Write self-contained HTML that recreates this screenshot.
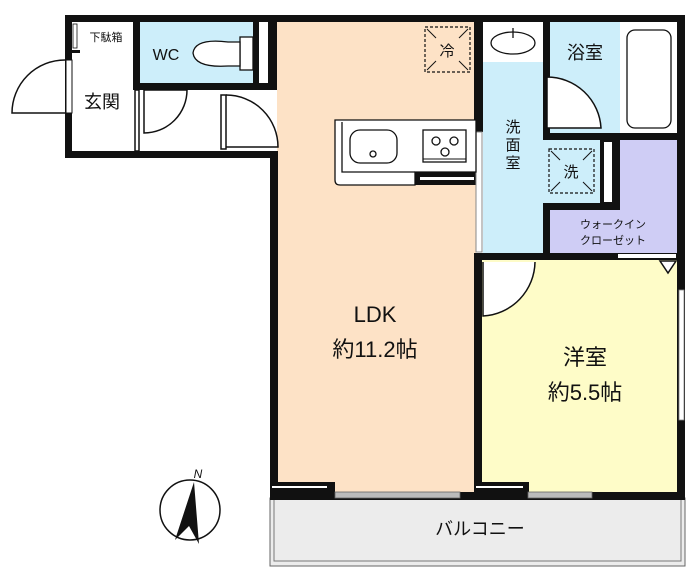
<!DOCTYPE html>
<html><head><meta charset="utf-8"><style>
html,body{margin:0;padding:0;background:#fff;width:700px;height:576px;overflow:hidden}
svg{display:block}
text{font-family:"Liberation Sans","Noto Sans CJK JP",sans-serif;fill:#111}
</style></head><body>
<svg width="700" height="576" viewBox="0 0 700 576">
<!-- fills -->
<rect x="72" y="22" width="205" height="130" fill="#fff"/>
<rect x="140" y="22" width="113" height="61" fill="#cdeefa"/>
<rect x="277" y="22" width="199" height="472" fill="#fde2c6"/>
<rect x="270" y="152" width="10" height="342" fill="#fde2c6"/>
<rect x="483" y="62" width="62" height="192" fill="#cdeefa"/>
<rect x="545" y="140" width="62" height="65" fill="#cdeefa"/>
<rect x="550" y="22" width="70" height="112" fill="#cdeefa"/>
<rect x="620" y="22" width="58" height="112" fill="#fff"/>
<rect x="483" y="22" width="62" height="40" fill="#fff"/>
<rect x="620" y="140" width="58" height="115" fill="#cfcdf5"/>
<rect x="550" y="205" width="70" height="50" fill="#cfcdf5"/>
<rect x="482" y="260" width="196" height="234" fill="#fefcc8"/>
<!-- balcony -->
<rect x="270" y="498" width="415" height="68" fill="#ececec" stroke="#666" stroke-width="1"/>
<rect x="274" y="498" width="407" height="63" fill="none" stroke="#777" stroke-width="1"/>
<!-- walls -->
<g fill="#111">
<rect x="65" y="15" width="620" height="7"/>
<rect x="65" y="15" width="7" height="143"/>
<rect x="65" y="151" width="213" height="7"/>
<rect x="270" y="151" width="8" height="349"/>
<rect x="677" y="15" width="8" height="485"/>
<rect x="270" y="492" width="415" height="8"/>
<rect x="133" y="22" width="7" height="68"/>
<rect x="133" y="83" width="144" height="7"/>
<rect x="253" y="22" width="6" height="68"/>
<rect x="268" y="22" width="9" height="68"/>
<rect x="72" y="50" width="8" height="3"/>
<rect x="474" y="22" width="9" height="110"/>
<rect x="543" y="22" width="7" height="118"/>
<rect x="543" y="133" width="142" height="7"/>
<rect x="600" y="140" width="20" height="70"/>
<rect x="545" y="203" width="75" height="7"/>
<rect x="543" y="203" width="7" height="57"/>
<rect x="474" y="253" width="211" height="7"/>
<rect x="474" y="253" width="8" height="247"/>
<rect x="415" y="172" width="61" height="13"/>
<rect x="270" y="482" width="65" height="12"/>
<rect x="474" y="482" width="55" height="12"/>
</g>
<!-- wall gaps / door openings -->
<rect x="66" y="60" width="6" height="53" fill="#fff" stroke="#111" stroke-width="1"/>
<rect x="73" y="24" width="4" height="24" fill="#fff" stroke="#111" stroke-width="0.8"/>
<rect x="260" y="24" width="7" height="58" fill="#fff"/>
<rect x="604" y="142" width="8" height="60" fill="#fff"/>
<rect x="476" y="132" width="6" height="120" fill="#fff" stroke="#888" stroke-width="1"/>
<rect x="420" y="177" width="54" height="3" fill="#fff"/>
<rect x="272" y="486" width="55" height="2" fill="#fff"/>
<rect x="476" y="486" width="47" height="2" fill="#fff"/>
<rect x="335" y="492" width="125" height="6" fill="#bbb" stroke="#666" stroke-width="0.8"/>
<rect x="528" y="492" width="64" height="6" fill="#bbb" stroke="#666" stroke-width="0.8"/>
<rect x="618" y="254" width="58" height="4" fill="#fff"/>
<rect x="679" y="290" width="5" height="130" fill="#fff" stroke="#888" stroke-width="0.8"/>
<!-- doors -->
<g fill="none" stroke="#111" stroke-width="1.5">
<path d="M65 60 A53 53 0 0 0 12 113 L65 113"/>
<rect x="135" y="90" width="4" height="61" fill="#fff"/>
<path d="M144 90 L144 133 A43 43 0 0 0 187 90 Z" fill="#fff"/>
<rect x="221" y="95" width="5" height="54" fill="#fff"/>
<path d="M226 95 A52 52 0 0 1 278 147 L226 147"/>
<path d="M547 77 L547 128 L601 128 A54 54 0 0 0 547 77" fill="#fff"/>
<path d="M483 262 L483 316 A55 55 0 0 0 535 262" fill="#fff"/>
<path d="M660 261 L676 261 L668 273 Z" fill="#fff"/>
</g>
<!-- fixtures -->
<rect x="80" y="23" width="52" height="28" fill="#fff"/>
<g fill="#fff" stroke="#111" stroke-width="1.3">
<rect x="240" y="37" width="13" height="33"/>
<path d="M240 42 L228 42 Q195 38 193 53 Q195 68 228 66 L240 66 Z"/>
<path d="M335 120 L476 120 L476 172 L415 172 L415 185 L340 185 Q335 185 335 180 Z"/>
<path d="M342 122 L342 172 L415 172" fill="none"/>
<rect x="350" y="130" width="47" height="33" rx="10"/>
<circle cx="373" cy="154" r="3"/>
<rect x="423" y="130" width="43" height="32"/>
<circle cx="436" cy="141" r="4"/><circle cx="454" cy="141" r="4"/><circle cx="445" cy="152" r="4"/>
<ellipse cx="513" cy="43" rx="22" ry="11"/>
<line x1="513" y1="28" x2="513" y2="38"/>
<rect x="627" y="30" width="44" height="98" rx="8"/>
</g>
<line x1="423" y1="159" x2="466" y2="159" stroke="#111"/>
<g fill="none" stroke="#111" stroke-width="1.2" stroke-dasharray="3,2">
<rect x="425" y="27" width="45" height="45"/>
<rect x="549" y="149" width="45" height="44"/>
</g>
<g stroke="#111" stroke-width="1">
<line x1="427" y1="29" x2="436" y2="38"/><line x1="468" y1="29" x2="459" y2="38"/><line x1="427" y1="70" x2="436" y2="61"/><line x1="468" y1="70" x2="459" y2="61"/>
<line x1="551" y1="151" x2="560" y2="160"/><line x1="592" y1="151" x2="583" y2="160"/><line x1="551" y1="191" x2="560" y2="182"/><line x1="592" y1="191" x2="583" y2="182"/>
</g>
<!-- texts -->
<text x="106" y="41" font-size="11" text-anchor="middle">下駄箱</text>
<text x="166" y="60" font-size="16" text-anchor="middle">WC</text>
<text x="102" y="108" font-size="18" text-anchor="middle">玄関</text>
<text x="447" y="56" font-size="15" text-anchor="middle">冷</text>
<text x="571" y="177" font-size="15" text-anchor="middle">洗</text>
<text x="585" y="59" font-size="18" text-anchor="middle">浴室</text>
<text x="513" y="132" font-size="15" text-anchor="middle">洗</text>
<text x="513" y="150" font-size="15" text-anchor="middle">面</text>
<text x="513" y="168" font-size="15" text-anchor="middle">室</text>
<text x="613" y="228" font-size="11" text-anchor="middle">ウォークイン</text>
<text x="613" y="244" font-size="11" text-anchor="middle">クローゼット</text>
<text x="375" y="322" font-size="22" text-anchor="middle">LDK</text>
<text x="375" y="357" font-size="22" text-anchor="middle">約11.2帖</text>
<text x="585" y="365" font-size="22" text-anchor="middle">洋室</text>
<text x="585" y="400" font-size="22" text-anchor="middle">約5.5帖</text>
<text x="480" y="535" font-size="18" text-anchor="middle">バルコニー</text>
<!-- compass -->
<circle cx="190" cy="510" r="30" fill="#fff" stroke="#111" stroke-width="1.5"/>
<path d="M194 482 L175 540 L189 526 L199 544 Z" fill="#111"/>
<text x="198" y="478" font-size="12" font-style="italic" text-anchor="middle">N</text>
</svg>
</body></html>
